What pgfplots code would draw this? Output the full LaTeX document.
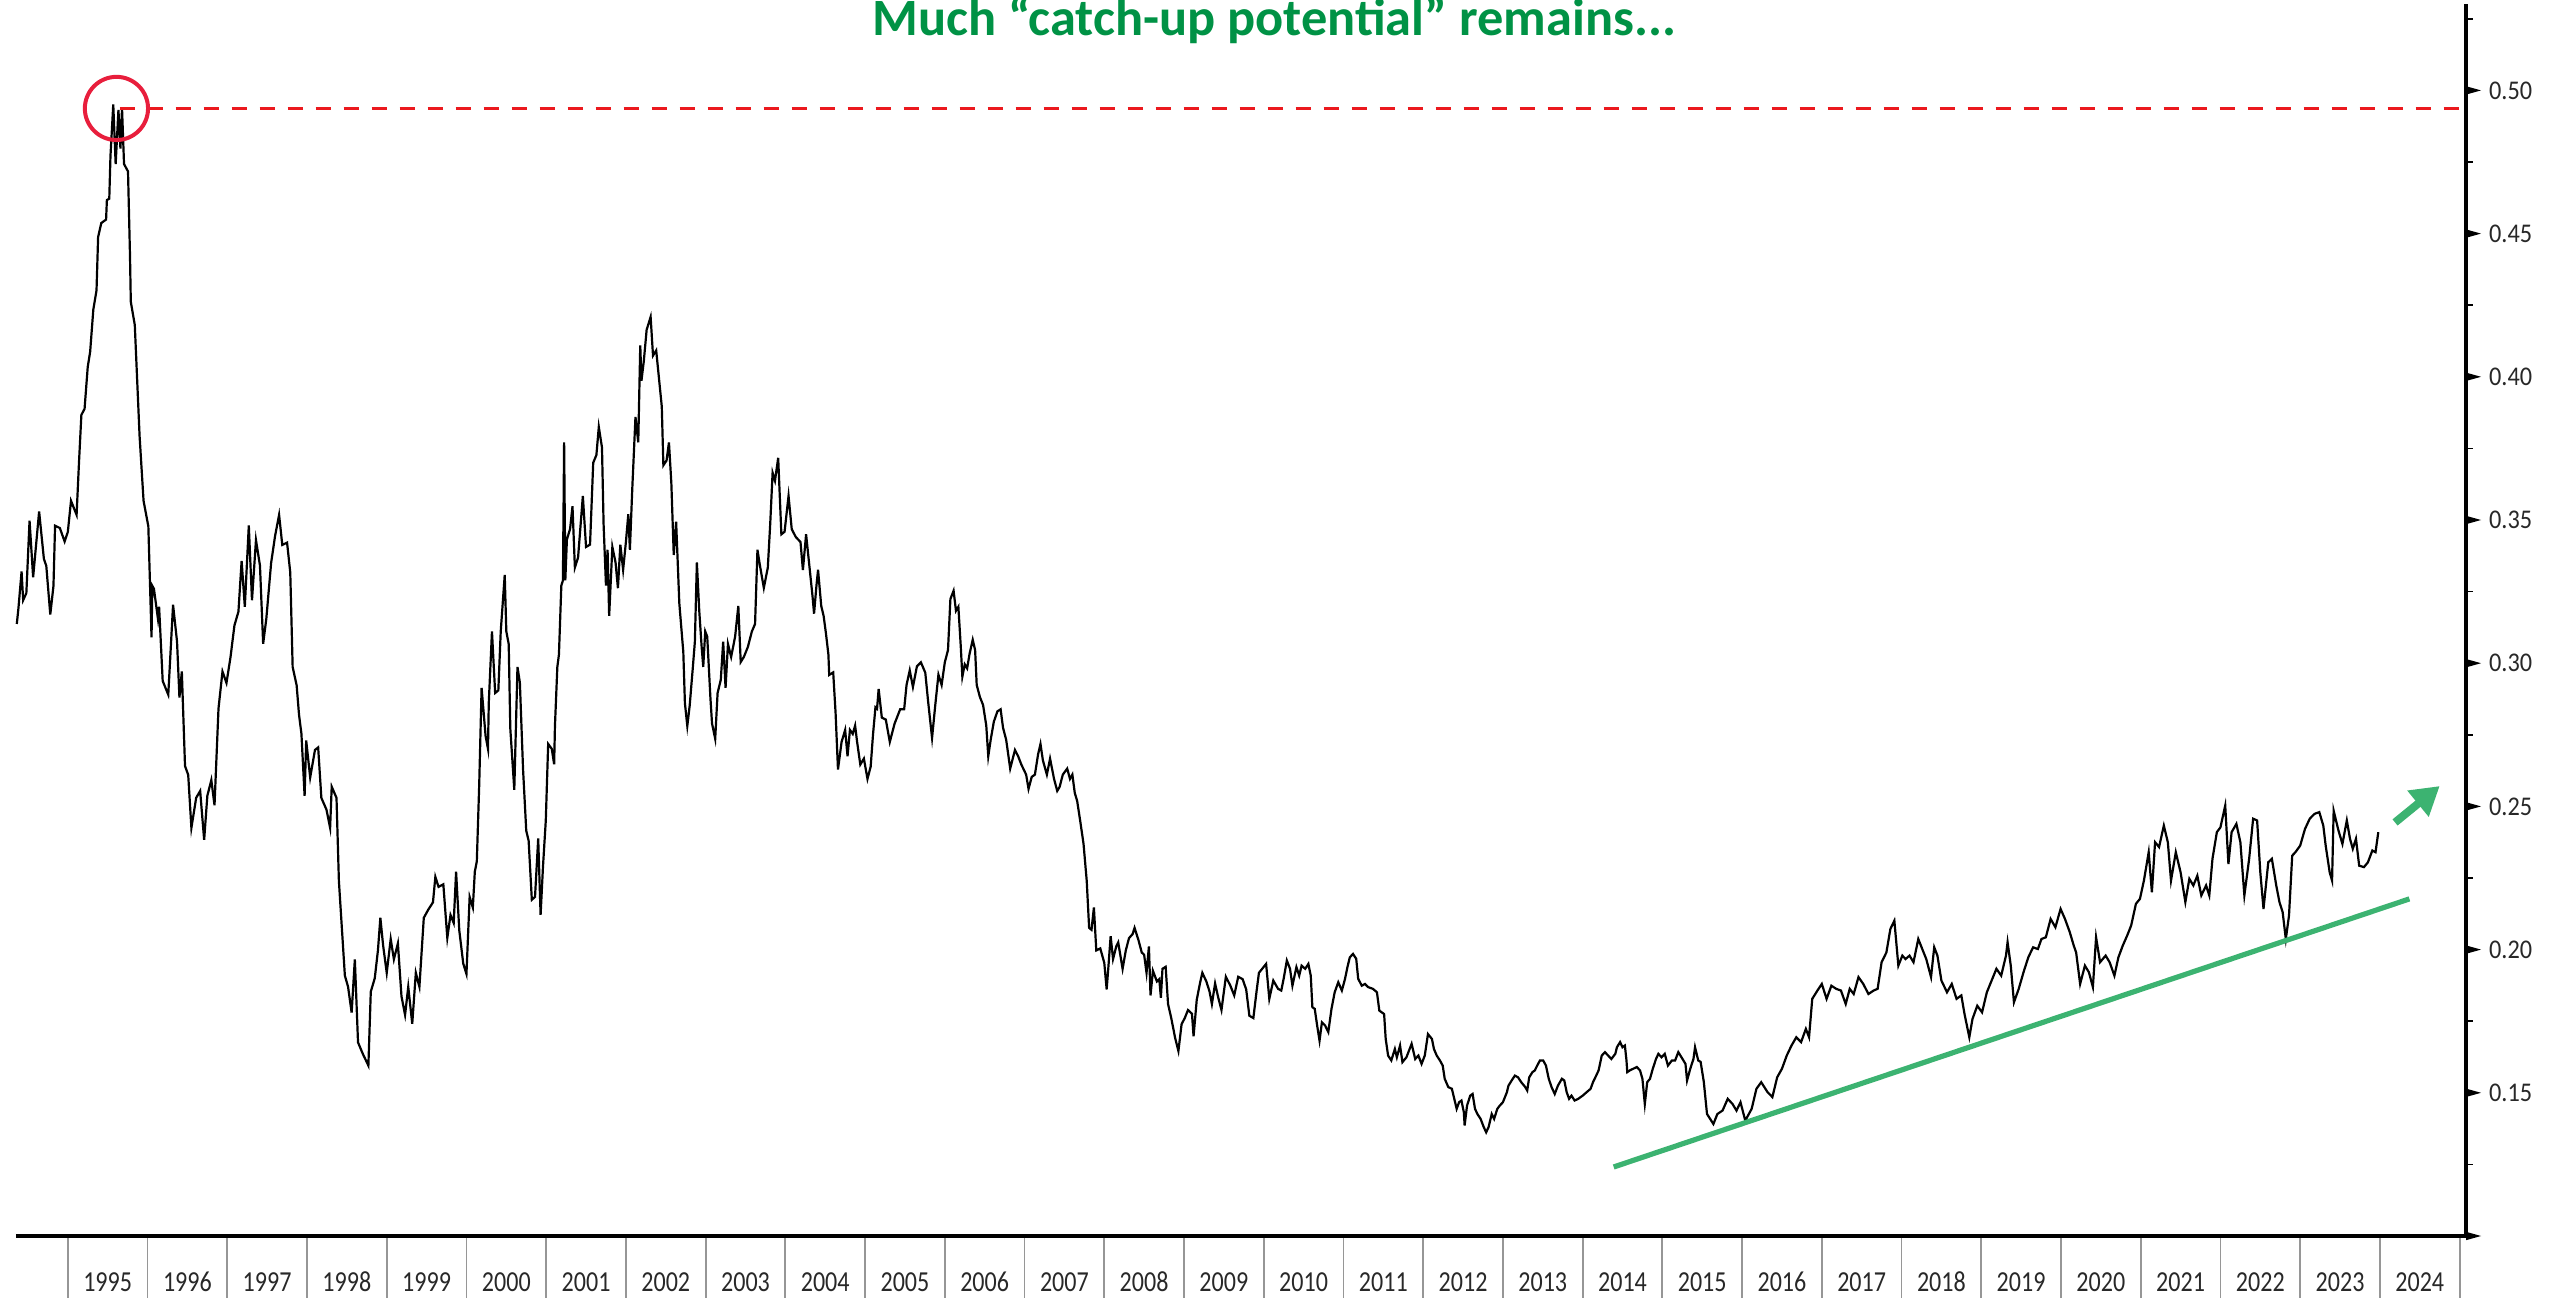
\documentclass[border=0pt]{standalone}
\usepackage{fontspec}
\setmainfont{Carlito}
\newfontfamily\xlabfont[FakeStretch=0.83]{Carlito}
\newfontfamily\ylabfont[FakeStretch=0.9]{Carlito}
\usepackage{pgfplots}
\usepackage{pgfplotstable}
\pgfplotsset{compat=1.18}
\usetikzlibrary{arrows.meta}
\definecolor{titlegreen}{RGB}{0,146,69}
\definecolor{trendgreen}{RGB}{60,179,113}
\definecolor{circred}{RGB}{232,30,60}
\definecolor{dashred}{RGB}{235,25,30}
\definecolor{sepgray}{RGB}{150,150,150}
\definecolor{labgray}{RGB}{40,40,40}
\pgfdeclareplotmark{rtri}{\pgfpathmoveto{\pgfqpoint{0pt}{1.05pt}}\pgfpathlineto{\pgfqpoint{3.75pt}{0pt}}\pgfpathlineto{\pgfqpoint{0pt}{-1.05pt}}\pgfpathclose\pgfusepathqfill}
\pgfdeclareplotmark{rtick}{\pgfpathmoveto{\pgfqpoint{0pt}{0pt}}\pgfpathlineto{\pgfqpoint{1.75pt}{0pt}}\pgfusepathqstroke}
\pgfplotstableread{
x y
1994.36 0.3137
1994.38 0.3190
1994.42 0.3320
1994.44 0.3220
1994.48 0.3245
1994.52 0.3498
1994.565 0.3300
1994.64 0.3530
1994.70 0.3364
1994.73 0.3340
1994.78 0.3170
1994.82 0.3270
1994.84 0.3480
1994.90 0.3472
1994.96 0.3425
1995.00 0.3458
1995.04 0.3567
1995.11 0.3518
1995.14 0.3700
1995.17 0.3867
1995.21 0.3888
1995.25 0.4035
1995.28 0.4087
1995.32 0.4235
1995.36 0.4302
1995.38 0.4488
1995.42 0.4537
1995.48 0.4549
1995.49 0.4617
1995.52 0.4622
1995.535 0.4771
1995.57 0.4951
1995.60 0.4743
1995.635 0.4932
1995.66 0.4797
1995.68 0.4937
1995.705 0.4743
1995.755 0.4717
1995.78 0.4422
1995.79 0.4262
1995.84 0.4181
1995.90 0.3794
1995.95 0.3567
1996.01 0.3478
1996.05 0.3090
1996.06 0.3270
1996.08 0.3260
1996.13 0.3156
1996.145 0.3197
1996.19 0.2938
1996.26 0.2890
1996.32 0.3204
1996.37 0.3075
1996.40 0.2880
1996.43 0.2971
1996.47 0.2641
1996.51 0.2610
1996.55 0.2425
1996.61 0.2530
1996.66 0.2554
1996.71 0.2383
1996.75 0.2537
1996.80 0.2592
1996.84 0.2504
1996.89 0.2842
1996.94 0.2971
1996.99 0.2931
1997.04 0.3020
1997.09 0.3132
1997.14 0.3180
1997.18 0.3357
1997.22 0.3197
1997.27 0.3481
1997.31 0.3220
1997.36 0.3430
1997.41 0.3341
1997.45 0.3068
1997.49 0.3156
1997.55 0.3350
1997.60 0.3445
1997.65 0.3518
1997.69 0.3413
1997.75 0.3421
1997.79 0.3317
1997.82 0.2987
1997.87 0.2923
1997.90 0.2820
1997.93 0.2754
1997.97 0.2537
1997.99 0.2730
1998.04 0.2601
1998.10 0.2697
1998.14 0.2706
1998.18 0.2530
1998.245 0.2488
1998.29 0.2425
1998.31 0.2569
1998.37 0.2530
1998.40 0.2240
1998.475 0.1909
1998.515 0.1870
1998.56 0.1780
1998.60 0.1966
1998.64 0.1676
1998.70 0.1636
1998.77 0.1595
1998.80 0.1853
1998.85 0.1900
1998.89 0.1998
1998.92 0.2111
1998.955 0.2014
1999.00 0.1919
1999.05 0.2037
1999.09 0.1966
1999.14 0.2022
1999.185 0.1837
1999.23 0.1772
1999.27 0.1870
1999.32 0.1741
1999.365 0.1919
1999.41 0.1870
1999.465 0.2111
1999.52 0.2139
1999.58 0.2165
1999.61 0.2254
1999.65 0.2219
1999.71 0.2228
1999.76 0.2041
1999.80 0.2121
1999.84 0.2093
1999.87 0.2272
1999.91 0.2067
1999.96 0.1951
2000.00 0.1915
2000.04 0.2184
2000.08 0.2147
2000.105 0.2272
2000.13 0.2308
2000.16 0.2575
2000.19 0.2914
2000.24 0.2746
2000.27 0.2701
2000.28 0.2861
2000.32 0.3111
2000.36 0.2896
2000.40 0.2905
2000.43 0.3111
2000.48 0.3308
2000.50 0.3111
2000.53 0.3067
2000.55 0.2772
2000.60 0.2558
2000.64 0.2987
2000.67 0.2932
2000.71 0.2629
2000.75 0.2415
2000.78 0.2380
2000.82 0.2174
2000.86 0.2184
2000.90 0.2388
2000.93 0.2121
2000.96 0.2290
2000.995 0.2450
2001.025 0.2718
2001.07 0.2701
2001.10 0.2647
2001.11 0.2781
2001.14 0.2987
2001.16 0.3030
2001.19 0.3271
2001.21 0.3289
2001.225 0.3771
2001.24 0.3289
2001.26 0.3432
2001.30 0.3469
2001.33 0.3548
2001.36 0.3334
2001.40 0.3369
2001.46 0.3584
2001.50 0.3406
2001.55 0.3414
2001.59 0.3700
2001.63 0.3727
2001.66 0.3825
2001.70 0.3753
2001.72 0.3486
2001.75 0.3271
2001.77 0.3396
2001.79 0.3165
2001.83 0.3406
2001.87 0.3352
2001.90 0.3262
2001.93 0.3414
2001.965 0.3326
2002.00 0.3423
2002.03 0.3520
2002.05 0.3396
2002.08 0.3610
2002.12 0.3860
2002.155 0.3771
2002.18 0.4110
2002.195 0.3986
2002.225 0.4056
2002.26 0.4164
2002.31 0.4209
2002.34 0.4074
2002.38 0.4092
2002.45 0.3896
2002.47 0.3691
2002.51 0.3708
2002.54 0.3771
2002.57 0.3628
2002.60 0.3378
2002.63 0.3494
2002.67 0.3209
2002.72 0.3039
2002.74 0.2861
2002.77 0.2781
2002.80 0.2852
2002.84 0.2987
2002.865 0.3075
2002.89 0.3352
2002.92 0.3183
2002.95 0.3057
2002.97 0.2987
2002.995 0.3111
2003.02 0.3093
2003.06 0.2879
2003.08 0.2790
2003.12 0.2736
2003.15 0.2896
2003.19 0.2942
2003.22 0.3075
2003.25 0.2914
2003.28 0.3067
2003.32 0.3022
2003.37 0.3093
2003.41 0.3200
2003.44 0.3004
2003.48 0.3022
2003.53 0.3057
2003.58 0.3111
2003.62 0.3137
2003.65 0.3396
2003.68 0.3343
2003.73 0.3263
2003.78 0.3334
2003.81 0.3486
2003.84 0.3665
2003.87 0.3637
2003.91 0.3717
2003.95 0.3450
2003.99 0.3459
2004.04 0.3584
2004.08 0.3468
2004.13 0.3441
2004.19 0.3423
2004.22 0.3325
2004.26 0.3450
2004.30 0.3343
2004.34 0.3236
2004.36 0.3173
2004.39 0.3271
2004.41 0.3326
2004.45 0.3200
2004.48 0.3165
2004.51 0.3102
2004.54 0.3030
2004.55 0.2959
2004.60 0.2968
2004.63 0.2826
2004.66 0.2629
2004.705 0.2725
2004.75 0.2767
2004.78 0.2675
2004.81 0.2767
2004.845 0.2753
2004.875 0.2782
2004.90 0.2725
2004.94 0.2646
2004.985 0.2667
2005.03 0.2596
2005.07 0.2639
2005.10 0.2753
2005.13 0.2846
2005.15 0.2841
2005.17 0.2910
2005.21 0.2810
2005.26 0.2803
2005.31 0.2725
2005.37 0.2789
2005.44 0.2839
2005.49 0.2839
2005.52 0.2924
2005.56 0.2975
2005.60 0.2917
2005.65 0.2989
2005.70 0.3003
2005.755 0.2967
2005.79 0.2868
2005.84 0.2739
2005.88 0.2853
2005.92 0.2960
2005.96 0.2924
2006.00 0.3003
2006.04 0.3046
2006.07 0.3224
2006.11 0.3253
2006.14 0.3183
2006.17 0.3197
2006.20 0.3059
2006.22 0.2953
2006.25 0.2996
2006.28 0.2982
2006.31 0.3032
2006.35 0.3082
2006.38 0.3046
2006.40 0.2924
2006.44 0.2882
2006.48 0.2854
2006.52 0.2782
2006.545 0.2675
2006.575 0.2732
2006.615 0.2796
2006.66 0.2832
2006.70 0.2839
2006.73 0.2775
2006.77 0.2732
2006.82 0.2632
2006.88 0.2697
2006.92 0.2675
2006.96 0.2646
2007.02 0.2611
2007.05 0.2561
2007.09 0.2603
2007.13 0.2611
2007.17 0.2682
2007.20 0.2718
2007.23 0.2661
2007.28 0.2611
2007.32 0.2667
2007.37 0.2596
2007.41 0.2554
2007.44 0.2568
2007.48 0.2611
2007.535 0.2632
2007.57 0.2596
2007.60 0.2611
2007.63 0.2547
2007.66 0.2519
2007.70 0.2446
2007.74 0.2369
2007.78 0.2240
2007.81 0.2076
2007.84 0.2069
2007.87 0.2147
2007.90 0.1997
2007.95 0.2004
2008.00 0.1954
2008.03 0.1861
2008.05 0.1933
2008.08 0.2047
2008.11 0.1967
2008.15 0.2011
2008.175 0.2025
2008.23 0.1933
2008.27 0.1997
2008.31 0.2040
2008.355 0.2054
2008.38 0.2076
2008.43 0.2032
2008.47 0.1990
2008.50 0.1982
2008.53 0.1919
2008.56 0.2011
2008.58 0.1840
2008.61 0.1926
2008.66 0.1889
2008.69 0.1897
2008.71 0.1832
2008.73 0.1933
2008.77 0.1940
2008.80 0.1810
2008.84 0.1761
2008.89 0.1690
2008.93 0.1646
2008.97 0.1740
2009.01 0.1761
2009.05 0.1789
2009.10 0.1776
2009.12 0.1697
2009.16 0.1825
2009.20 0.1882
2009.23 0.1919
2009.28 0.1889
2009.32 0.1854
2009.35 0.1810
2009.39 0.1882
2009.43 0.1832
2009.47 0.1789
2009.525 0.1905
2009.58 0.1875
2009.63 0.1840
2009.68 0.1905
2009.735 0.1897
2009.78 0.1861
2009.82 0.1769
2009.87 0.1761
2009.91 0.1854
2009.94 0.1919
2010.03 0.1950
2010.07 0.1828
2010.12 0.1892
2010.18 0.1863
2010.22 0.1857
2010.25 0.1898
2010.29 0.1962
2010.33 0.1933
2010.36 0.1874
2010.41 0.1939
2010.445 0.1909
2010.475 0.1944
2010.52 0.1933
2010.56 0.1950
2010.59 0.1909
2010.61 0.1799
2010.64 0.1793
2010.67 0.1735
2010.70 0.1682
2010.73 0.1746
2010.77 0.1735
2010.81 0.1712
2010.85 0.1793
2010.89 0.1851
2010.935 0.1886
2010.98 0.1857
2011.02 0.1898
2011.05 0.1939
2011.08 0.1973
2011.12 0.1985
2011.16 0.1968
2011.185 0.1898
2011.23 0.1874
2011.27 0.1880
2011.31 0.1869
2011.37 0.1863
2011.42 0.1851
2011.45 0.1787
2011.48 0.1781
2011.51 0.1775
2011.53 0.1688
2011.56 0.1630
2011.60 0.1613
2011.645 0.1653
2011.67 0.1624
2011.71 0.1665
2011.74 0.1607
2011.79 0.1624
2011.855 0.1671
2011.90 0.1618
2011.94 0.1630
2011.98 0.1601
2012.02 0.1630
2012.06 0.1705
2012.11 0.1688
2012.135 0.1653
2012.17 0.1630
2012.21 0.1613
2012.245 0.1595
2012.27 0.1549
2012.315 0.1520
2012.36 0.1514
2012.39 0.1479
2012.42 0.1444
2012.45 0.1467
2012.48 0.1473
2012.51 0.1432
2012.52 0.1386
2012.55 0.1455
2012.59 0.1490
2012.62 0.1496
2012.65 0.1444
2012.68 0.1426
2012.72 0.1409
2012.76 0.1380
2012.79 0.1362
2012.82 0.1380
2012.86 0.1426
2012.89 0.1409
2012.93 0.1444
2012.96 0.1455
2013.00 0.1467
2013.05 0.1502
2013.07 0.1525
2013.11 0.1543
2013.15 0.1560
2013.19 0.1554
2013.23 0.1537
2013.28 0.1520
2013.305 0.1508
2013.33 0.1554
2013.37 0.1572
2013.40 0.1578
2013.43 0.1595
2013.465 0.1613
2013.505 0.1613
2013.54 0.1595
2013.575 0.1549
2013.61 0.1520
2013.65 0.1496
2013.69 0.1525
2013.74 0.1549
2013.77 0.1543
2013.80 0.1502
2013.83 0.1479
2013.86 0.1490
2013.90 0.1473
2013.945 0.1479
2014.00 0.1490
2014.05 0.1502
2014.10 0.1514
2014.13 0.1537
2014.17 0.1560
2014.20 0.1578
2014.24 0.1630
2014.28 0.1642
2014.32 0.1630
2014.36 0.1618
2014.41 0.1636
2014.43 0.1659
2014.47 0.1677
2014.50 0.1659
2014.53 0.1665
2014.55 0.1613
2014.56 0.1572
2014.59 0.1578
2014.635 0.1584
2014.68 0.1590
2014.72 0.1578
2014.75 0.1549
2014.78 0.1461
2014.81 0.1537
2014.845 0.1549
2014.88 0.1584
2014.92 0.1618
2014.95 0.1636
2014.99 0.1624
2015.03 0.1636
2015.07 0.1595
2015.12 0.1613
2015.16 0.1613
2015.20 0.1642
2015.24 0.1624
2015.29 0.1601
2015.31 0.1543
2015.35 0.1584
2015.39 0.1618
2015.41 0.1659
2015.45 0.1613
2015.48 0.1608
2015.52 0.1538
2015.56 0.1426
2015.64 0.1391
2015.69 0.1426
2015.755 0.1438
2015.82 0.1479
2015.88 0.1461
2015.93 0.1438
2015.98 0.1467
2016.04 0.1403
2016.12 0.1444
2016.18 0.1514
2016.24 0.1537
2016.32 0.1502
2016.38 0.1485
2016.44 0.1554
2016.50 0.1584
2016.56 0.1630
2016.62 0.1665
2016.68 0.1694
2016.74 0.1677
2016.80 0.1723
2016.84 0.1694
2016.88 0.1828
2016.945 0.1857
2017.00 0.1880
2017.06 0.1828
2017.12 0.1874
2017.18 0.1863
2017.24 0.1857
2017.30 0.1810
2017.35 0.1863
2017.40 0.1845
2017.46 0.1904
2017.52 0.1880
2017.585 0.1845
2017.65 0.1857
2017.70 0.1863
2017.75 0.1956
2017.81 0.1990
2017.86 0.2072
2017.91 0.2101
2017.96 0.1944
2018.01 0.1979
2018.05 0.1967
2018.10 0.1979
2018.15 0.1956
2018.21 0.2037
2018.26 0.2002
2018.31 0.1967
2018.37 0.1904
2018.41 0.2008
2018.45 0.1979
2018.50 0.1892
2018.57 0.1851
2018.63 0.1880
2018.69 0.1828
2018.75 0.1840
2018.79 0.1775
2018.85 0.1694
2018.89 0.1758
2018.95 0.1804
2019.01 0.1781
2019.07 0.1851
2019.13 0.1892
2019.19 0.1933
2019.25 0.1909
2019.31 0.1979
2019.33 0.2026
2019.37 0.1944
2019.41 0.1816
2019.47 0.1863
2019.53 0.1921
2019.59 0.1973
2019.65 0.2008
2019.71 0.2002
2019.755 0.2037
2019.81 0.2043
2019.87 0.2107
2019.93 0.2078
2019.995 0.2142
2020.05 0.2107
2020.11 0.2061
2020.16 0.2014
2020.19 0.1990
2020.24 0.1880
2020.30 0.1944
2020.35 0.1921
2020.40 0.1869
2020.44 0.2043
2020.49 0.1956
2020.56 0.1979
2020.61 0.1956
2020.67 0.1909
2020.72 0.1973
2020.775 0.2014
2020.83 0.2049
2020.88 0.2084
2020.94 0.2160
2020.99 0.2177
2021.04 0.2241
2021.10 0.2340
2021.14 0.2200
2021.18 0.2375
2021.23 0.2358
2021.29 0.2433
2021.34 0.2375
2021.38 0.2241
2021.44 0.2340
2021.50 0.2270
2021.56 0.2166
2021.61 0.2247
2021.66 0.2224
2021.71 0.2258
2021.76 0.2189
2021.82 0.2224
2021.86 0.2189
2021.90 0.2317
2021.955 0.2410
2022.00 0.2427
2022.06 0.2503
2022.10 0.2299
2022.14 0.2410
2022.20 0.2439
2022.25 0.2375
2022.30 0.2189
2022.36 0.2317
2022.41 0.2457
2022.46 0.2451
2022.50 0.2270
2022.54 0.2142
2022.60 0.2305
2022.645 0.2317
2022.70 0.2224
2022.74 0.2166
2022.78 0.2131
2022.82 0.2037
2022.86 0.2119
2022.90 0.2328
2022.94 0.2340
2023.00 0.2363
2023.06 0.2421
2023.12 0.2457
2023.18 0.2474
2023.24 0.2480
2023.29 0.2433
2023.32 0.2363
2023.37 0.2270
2023.40 0.2241
2023.42 0.2485
2023.48 0.2416
2023.53 0.2369
2023.585 0.2451
2023.625 0.2387
2023.66 0.2352
2023.70 0.2387
2023.74 0.2293
2023.80 0.2288
2023.85 0.2305
2023.905 0.2346
2023.945 0.2340
2023.98 0.2410
}\ratio
\begin{document}
\begin{tikzpicture}
\begin{axis}[
  scale only axis, width=612.5pt, height=307.875pt,
  xmin=1994.35, xmax=2025.08, ymin=0.10, ymax=0.53,
  axis x line=bottom, axis y line=right,
  axis line style={-, line width=0.8pt, black},
  clip=false,
  tick align=outside,
  major tick length=0pt, minor tick length=16pt,
  major tick style={draw=none},
  minor x tick style={sepgray, line width=0.45pt},
  xtick={1995.5,1996.5,1997.5,1998.5,1999.5,2000.5,2001.5,2002.5,2003.5,2004.5,2005.5,2006.5,2007.5,2008.5,2009.5,2010.5,2011.5,2012.5,2013.5,2014.5,2015.5,2016.5,2017.5,2018.5,2019.5,2020.5,2021.5,2022.5,2023.5,2024.5},
  xticklabels={1995,1996,1997,1998,1999,2000,2001,2002,2003,2004,2005,2006,2007,2008,2009,2010,2011,2012,2013,2014,2015,2016,2017,2018,2019,2020,2021,2022,2023,2024},
  minor xtick={1995,1996,...,2025},
  ytick={0.10,0.15,0.20,0.25,0.30,0.35,0.40,0.45,0.50},
  yticklabels={,0.15,0.20,0.25,0.30,0.35,0.40,0.45,0.50},
  xticklabel style={font=\xlabfont\fontsize{7.25}{8}\selectfont, text=labgray, anchor=base, yshift=-14pt},
  yticklabel style={font=\ylabfont\fontsize{6.75}{8}\selectfont, text=labgray, anchor=west, xshift=2.25pt},
]
\addplot[black, line width=0.55pt] table[x=x,y=y]{\ratio};
\addplot[dashred, line width=0.75pt, dash pattern=on 3.75pt off 3.25pt, forget plot] coordinates {(1995.65,0.4937) (2025.08,0.4937)};
\addplot[only marks, mark=o, mark size=7.9pt, mark options={draw=circred, line width=1pt}, forget plot] coordinates {(1995.61,0.4937)};
\addplot[trendgreen, line width=1.3pt, forget plot] coordinates {(2014.39,0.1241) (2024.37,0.2177)};
\addplot[trendgreen, line width=2pt, -{Triangle[length=7pt,width=8pt]}, forget plot] coordinates {(2024.19,0.2444) (2024.75,0.2571)};
\addplot[only marks, mark=rtri, black, forget plot] coordinates {(2025.08,0.10) (2025.08,0.15) (2025.08,0.20) (2025.08,0.25) (2025.08,0.30) (2025.08,0.35) (2025.08,0.40) (2025.08,0.45) (2025.08,0.50)};
\addplot[only marks, mark=rtick, black, mark options={line width=0.4pt}, forget plot] coordinates {(2025.08,0.125) (2025.08,0.175) (2025.08,0.225) (2025.08,0.275) (2025.08,0.325) (2025.08,0.375) (2025.08,0.425) (2025.08,0.475) (2025.08,0.525)};
\node[font=\bfseries\fontsize{13.1}{15}\selectfont, text=titlegreen, anchor=base] at (axis cs:2010.13,0.5190) {Much “catch-up potential” remains...};
\end{axis}
\pgfresetboundingbox
\path[use as bounding box] ([xshift=-4pt,yshift=-15.25pt]current axis.south west) rectangle ([xshift=23.75pt,yshift=1.125pt]current axis.north east);
\end{tikzpicture}
\end{document}
